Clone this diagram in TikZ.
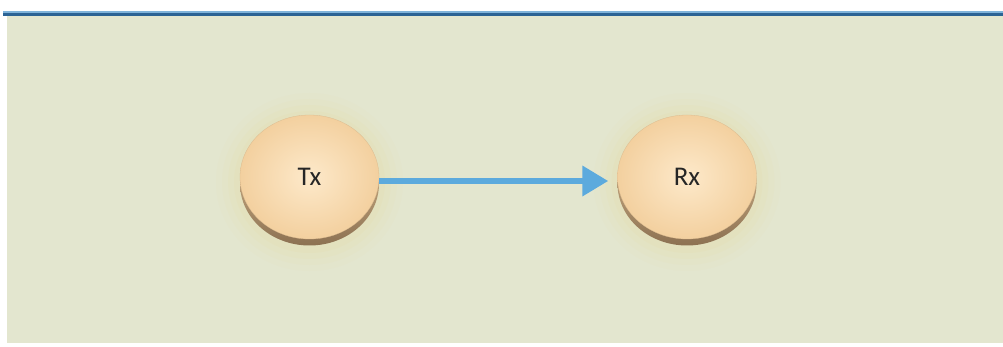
\documentclass[tikz,border=0pt]{standalone}
\usepackage{fontspec}
\setmainfont{Carlito}
\usetikzlibrary{shapes.geometric,arrows.meta,shadings}
\definecolor{bgpanel}{HTML}{E3E6CF}
\definecolor{rulelight}{HTML}{7FB3DA}
\definecolor{ruledark}{HTML}{2B6394}
\definecolor{facein}{HTML}{FDE9CA}
\definecolor{faceout}{HTML}{F3D09F}
\definecolor{sidetop}{HTML}{E8CA9C}
\definecolor{sidebot}{HTML}{8C7152}
\definecolor{haloc}{HTML}{EBD99A}
\definecolor{linkblue}{HTML}{5CAADD}
\definecolor{linkdark}{HTML}{4A86B0}
\tikzset{
  disc/.style={ellipse, minimum width=139pt, minimum height=124pt, inner sep=0pt,
    inner color=facein, outer color=faceout, draw=faceout!90!black, line width=0.3pt,
    font=\fontsize{27}{30}\selectfont, text=black!85},
  discside/.style={ellipse, minimum width=139pt, minimum height=124pt, inner sep=0pt,
    top color=sidetop, bottom color=sidebot},
  halo/.style={ellipse, inner sep=0pt, fill=haloc},
  link/.style={line width=6.5pt, draw=linkblue,
    -{Triangle[length=26pt,width=29pt,fill=linkblue]}, shorten >=9pt}
}
\begin{document}
\begin{tikzpicture}[x=1pt,y=-1pt]
  \useasboundingbox (0,0) rectangle (1003,347);
  \fill[white] (0,0) rectangle (1003,347);
  % panel and top rule
  \fill[bgpanel] (7,15) rectangle (1003,343);
  \fill[rulelight] (3,11.5) rectangle (1003,12.8);
  \fill[ruledark] (3,12.8) rectangle (1003,16);
  % soft halos under the discs
  \foreach \cx in {309.5,687} {
    \foreach \r/\o in {24/0.05,18/0.07,12/0.09,6/0.12} {
      \node[halo, opacity=\o, minimum width=139pt+2*\r pt, minimum height=130pt+2*\r pt]
        at (\cx,182) {};
    }
  }
  % disc sides (thickness)
  \node[discside] (txside) at (309.5,183.5) {};
  \node[discside] (rxside) at (687,183.5) {};
  % disc faces
  \node[disc] (tx) at (309.5,177) {Tx};
  \node[disc] (rx) at (687,177) {Rx};
  % link: darker lower edge, then the shaft and head
  \draw[line width=2pt, draw=linkdark, shorten >=30pt] ([yshift=-6.5pt]tx.east) -- ([yshift=-6.5pt]rx.west);
  \draw[link] ([yshift=-4pt]tx.east) -- ([yshift=-4pt]rx.west);
\end{tikzpicture}
\end{document}
